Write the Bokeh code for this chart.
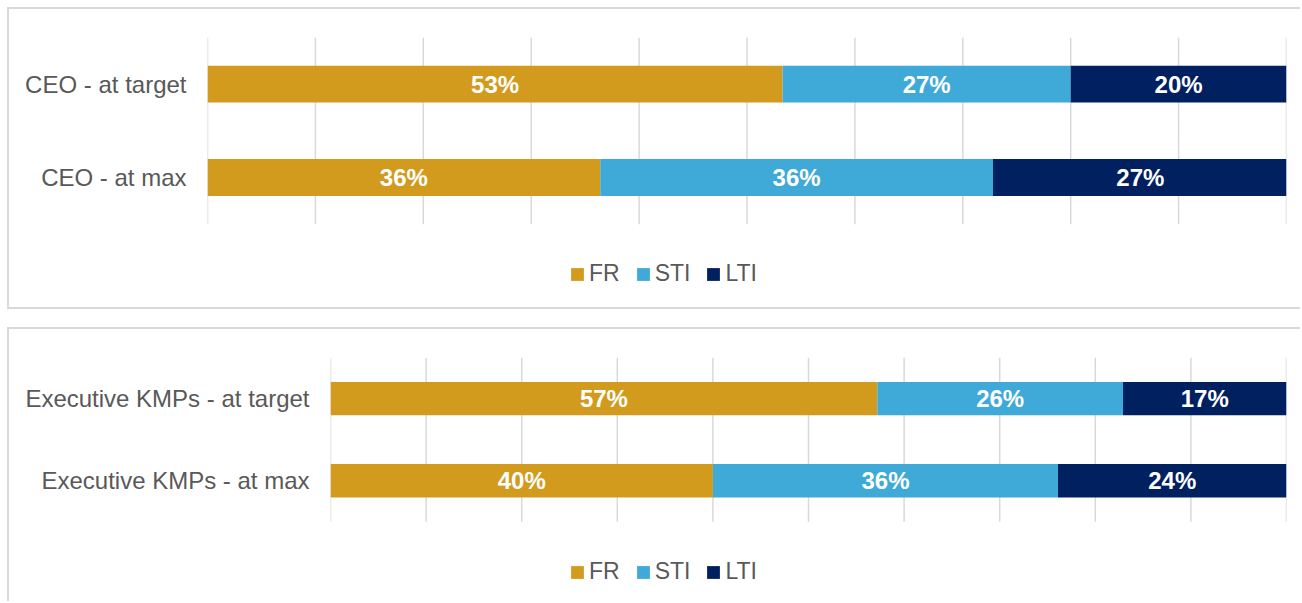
from bokeh.plotting import figure
from bokeh.models import Range1d, Legend, LegendItem, ColumnDataSource, FixedTicker
from bokeh.embed import file_html
from bokeh.resources import INLINE
from bokeh.core.properties import value

components = ["FR", "STI", "LTI"]
colors = ["#D29B1E", "#3FA9D8", "#002060"]

ceo_cats = ["CEO - at target", "CEO - at max"]
ceo_fr = [53.3, 36.4]
ceo_sti = [26.7, 36.4]
ceo_lti = [20.0, 27.3]

kmp_cats = ["Executive KMPs - at target", "Executive KMPs - at max"]
kmp_fr = [57.2, 40.0]
kmp_sti = [25.7, 36.1]
kmp_lti = [17.1, 23.9]

x_ticks = list(range(0, 101, 10))

FONT = "Liberation Sans"
GRAY = "#595959"
GRID = "#d9d9d9"
BORDER = "2px solid #d9d9d9"


def make_panel(cats, fr, sti, lti, width, height, bar_h, y_bottom, mb_left,
               mb_top, mb_right, legend_loc, styles):
    n = len(cats)
    ypos = list(range(n - 1, -1, -1))  # first category on top
    p = figure(x_range=Range1d(0, 100), y_range=Range1d(y_bottom, n - 0.5),
               width=width, height=height,
               output_backend="svg", toolbar_location=None,
               min_border_left=mb_left, min_border_top=mb_top,
               min_border_bottom=0, min_border_right=mb_right,
               styles=styles)
    # vertical grid lines spanning the category band only
    p.segment(x0=x_ticks, x1=x_ticks, y0=[-0.5] * len(x_ticks),
              y1=[n - 0.5] * len(x_ticks), line_color=GRID, line_width=1.5)

    src = ColumnDataSource(dict(y=ypos, FR=fr, STI=sti, LTI=lti))
    rs = p.hbar_stack(components, y="y", height=bar_h, color=colors,
                      line_color=None, source=src)
    left = [0.0] * n
    for vals in [fr, sti, lti]:
        xs = [l + v / 2 for l, v in zip(left, vals)]
        labels = [f"{round(v)}%" for v in vals]
        p.text(x=xs, y=ypos, text=labels, text_align="center",
               text_baseline="middle", text_color="white",
               text_font=value(FONT), text_font_style="bold",
               text_font_size="24px")
        left = [l + v for l, v in zip(left, vals)]

    p.outline_line_color = None
    p.xaxis.visible = False
    p.xgrid.grid_line_color = None
    p.ygrid.grid_line_color = None
    yax = p.yaxis[0]
    yax.ticker = FixedTicker(ticks=ypos)
    yax.major_label_overrides = {y: c for y, c in zip(ypos, cats)}
    yax.axis_line_color = None
    yax.major_tick_line_color = None
    yax.minor_tick_line_color = None
    yax.major_tick_out = 0
    yax.major_tick_in = 0
    yax.minor_tick_out = 0
    yax.major_label_text_font = FONT
    yax.major_label_text_font_size = "24px"
    yax.major_label_text_color = GRAY
    yax.major_label_standoff = 21

    items = [LegendItem(label=c, renderers=[r]) for c, r in zip(components, rs)]
    legend = Legend(items=items, orientation="horizontal", location=legend_loc,
                    glyph_width=16, glyph_height=16, label_standoff=4, spacing=15,
                    label_text_font=FONT, label_text_font_size="23px",
                    label_text_color=GRAY, padding=0, margin=0,
                    border_line_color=None, background_fill_alpha=0)
    p.add_layout(legend, "center")
    return p


p1 = make_panel(ceo_cats, ceo_fr, ceo_sti, ceo_lti, 1293, 302, 0.395, -1.435,
                198, 28, 16, (362, 24),
                {"border-top": BORDER, "border-left": BORDER, "border-bottom": BORDER,
                 "margin-left": "7px", "margin-top": "7px"})
p2 = make_panel(kmp_cats, kmp_fr, kmp_sti, kmp_lti, 1293, 274, 0.405, -1.494,
                321, 28, 16, (239, 18),
                {"border-top": BORDER, "border-left": BORDER,
                 "margin-left": "7px", "margin-top": "18px"})

open("out.html", "w").write(file_html([p1, p2], INLINE))
